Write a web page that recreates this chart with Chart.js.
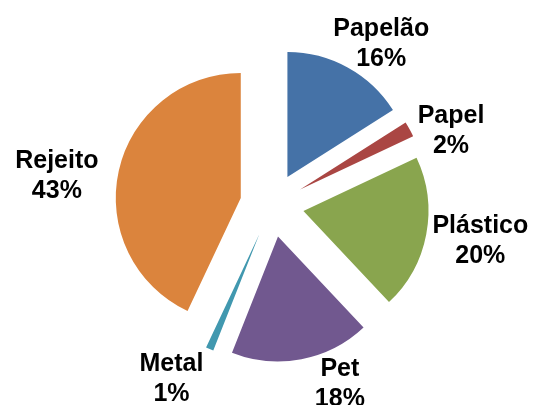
<!DOCTYPE html>
<html><head><meta charset="utf-8">
<script src="https://cdn.jsdelivr.net/npm/chart.js@4.4.0/dist/chart.umd.min.js"></script>
<style>html,body{margin:0;padding:0;background:#fff;}canvas{display:block}</style>
</head><body>
<canvas id="c" width="533" height="405"></canvas>
<script>
// ---- data ----
const categories = ['Papelão', 'Papel', 'Plástico', 'Pet', 'Metal', 'Rejeito'];
const percentages = [16, 2, 20, 18, 1, 43];
const percentLabels = ['16%', '2%', '20%', '18%', '1%', '43%'];

// ---- styles ----
const colors = ['#4572A7', '#AA4643', '#89A54E', '#71588F', '#4198AF', '#DB843D'];
const EXPLODE = 32;
const FONT_SIZE = 25;
const LINE_GAP = 30;
const labelNudge = [[9, 0], [9, 14], [4, 0], [33, -5], [-24, 2], [-18, 10]];

const explodePlugin = {
  id: 'explode',
  afterDatasetsUpdate(chart) {
    const meta = chart.getDatasetMeta(0);
    meta.data.forEach(arc => {
      if (arc._baseX === undefined) { arc._baseX = arc.x; arc._baseY = arc.y; }
      const mid = (arc.startAngle + arc.endAngle) / 2;
      arc.x = arc._baseX + Math.cos(mid) * EXPLODE;
      arc.y = arc._baseY + Math.sin(mid) * EXPLODE;
    });
  }
};

const labelPlugin = {
  id: 'outLabels',
  afterDatasetsDraw(chart) {
    const ctx = chart.ctx;
    const meta = chart.getDatasetMeta(0);
    ctx.save();
    ctx.font = 'bold ' + FONT_SIZE + 'px "Liberation Sans", Arial, sans-serif';
    ctx.fillStyle = '#000';
    ctx.textAlign = 'center';
    ctx.textBaseline = 'alphabetic';
    const capH = 24 * 0.716;
    meta.data.forEach((arc, i) => {
      const mid = (arc.startAngle + arc.endAngle) / 2;
      const dx = Math.cos(mid), dy = Math.sin(mid);
      const r = arc.outerRadius + 5;
      const px = arc.x + dx * r, py = arc.y + dy * r;
      const l1 = chart.data.labels[i], l2 = percentLabels[i];
      const hw = Math.max(ctx.measureText(l1).width, ctx.measureText(l2).width) / 2 * 24 / FONT_SIZE;
      const hh = (LINE_GAP + capH) / 2;
      const cx = px + dx * hw + labelNudge[i][0];
      const cy = py + dy * hh + labelNudge[i][1];
      ctx.fillText(l1, cx, cy + capH / 2 - LINE_GAP / 2);
      ctx.fillText(l2, cx, cy + capH / 2 + LINE_GAP / 2);
    });
    ctx.restore();
  }
};

new Chart(document.getElementById('c'), {
  type: 'pie',
  data: {
    labels: categories,
    datasets: [{
      data: percentages,
      backgroundColor: colors,
      borderWidth: 0
    }]
  },
  options: {
    responsive: false,
    devicePixelRatio: 1,
    animation: false,
    layout: { padding: { left: 147, right: 136, top: 80, bottom: 75 } },
    plugins: { legend: { display: false }, tooltip: { enabled: false } }
  },
  plugins: [explodePlugin, labelPlugin]
});
</script>
</body></html>
